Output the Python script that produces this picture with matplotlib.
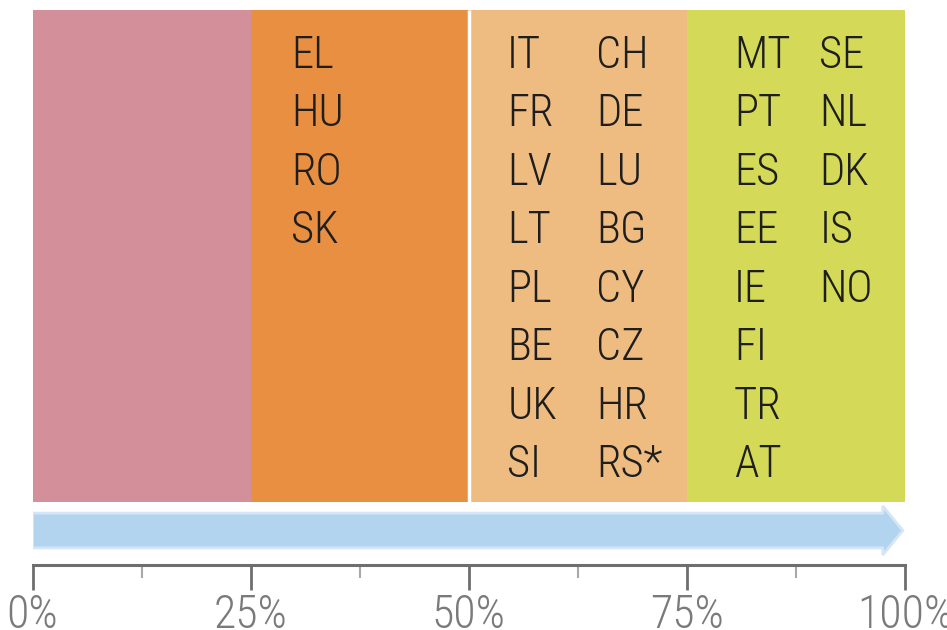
import matplotlib
matplotlib.use("Agg")
import matplotlib.pyplot as plt
from matplotlib import font_manager as fm
from matplotlib.patches import FancyArrow

# ---- data ----
group_starts = [0, 25, 50, 75]
group_widths = [25, 25, 25, 25]
group_colors = ["#D4909A", "#E98F42", "#EEBB80", "#D4D957"]
group2_col1 = ["EL", "HU", "RO", "SK"]
group3_col1 = ["IT", "FR", "LV", "LT", "PL", "BE", "UK", "SI"]
group3_col2 = ["CH", "DE", "LU", "BG", "CY", "CZ", "HR", "RS*"]
group4_col1 = ["MT", "PT", "ES", "EE", "IE", "FI", "TR", "AT"]
group4_col2 = ["SE", "NL", "DK", "IS", "NO"]
major_ticks = [0, 25, 50, 75, 100]
minor_ticks = [12.5, 37.5, 62.5, 87.5]
tick_labels = ["0%", "25%", "50%", "75%", "100%"]

names = {f.name for f in fm.fontManager.ttflist}
fam = "DejaVu Sans"
for cand in ["Roboto Condensed", "Archivo Narrow", "Barlow Semi Condensed", "Asap Condensed"]:
    if cand in names:
        fam = cand
        break

W, H = 947, 630
fig = plt.figure(figsize=(W / 100, H / 100), dpi=100)
px_l, px_r, px_top, px_axis = 32.5, 905, 10, 565
ax = fig.add_axes([px_l / W, 1 - px_axis / H, (px_r - px_l) / W, (px_axis - px_top) / H])
ax.set_xlim(0, 100)
ax.set_ylim(0, 1)

def fy(p):
    return (px_axis - p) / (px_axis - px_top)

bar_bottom = fy(502)
ax.bar(group_starts, [1 - bar_bottom] * 4, width=group_widths, bottom=bar_bottom,
       align="edge", color=group_colors, edgecolor="none", zorder=1)
ax.vlines(group_starts[2], bar_bottom, 1, color="white", lw=2.5, zorder=2)

# text columns (baselines)
row_px = [68 + i * 58.43 for i in range(8)]
cols = [(29.6, group2_col1), (54.4, group3_col1), (64.6, group3_col2),
        (80.4, group4_col1), (90.2, group4_col2)]
for x, labels in cols:
    for i, lab in enumerate(labels):
        ax.text(x, fy(row_px[i]), lab, fontsize=32, family=fam, color="#1E1E1E",
                fontweight="light", ha="left", va="baseline", zorder=3)

# arrow
ay = fy(530.5)
bh = (549 - 512) / (px_axis - px_top)
hw = (555 - 506) / (px_axis - px_top)
arr = FancyArrow(group_starts[0], ay, 100 - 0.25, 0, width=bh - 0.004, head_width=hw,
                 head_length=2.3, length_includes_head=True,
                 facecolor="#B2D4EF", edgecolor="#D4E6F6", lw=2, zorder=2)
ax.add_patch(arr)

# axis
for s in ["top", "right", "left"]:
    ax.spines[s].set_visible(False)
ax.spines["bottom"].set_color("#6E6E6E")
ax.spines["bottom"].set_linewidth(2.2)
ax.set_yticks([])
ax.set_xticks(major_ticks)
ax.set_xticklabels(tick_labels, family=fam, fontsize=33, color="#7A7A7A",
                   fontweight="light")
ax.set_xticks(minor_ticks, minor=True)
ax.tick_params(axis="x", which="major", length=18, width=2, color="#6E6E6E", pad=2)
ax.tick_params(axis="x", which="minor", length=9.5, width=1.5, color="#A8A8A8")
ax.set_facecolor("none")

fig.savefig("out.png", dpi=100)
